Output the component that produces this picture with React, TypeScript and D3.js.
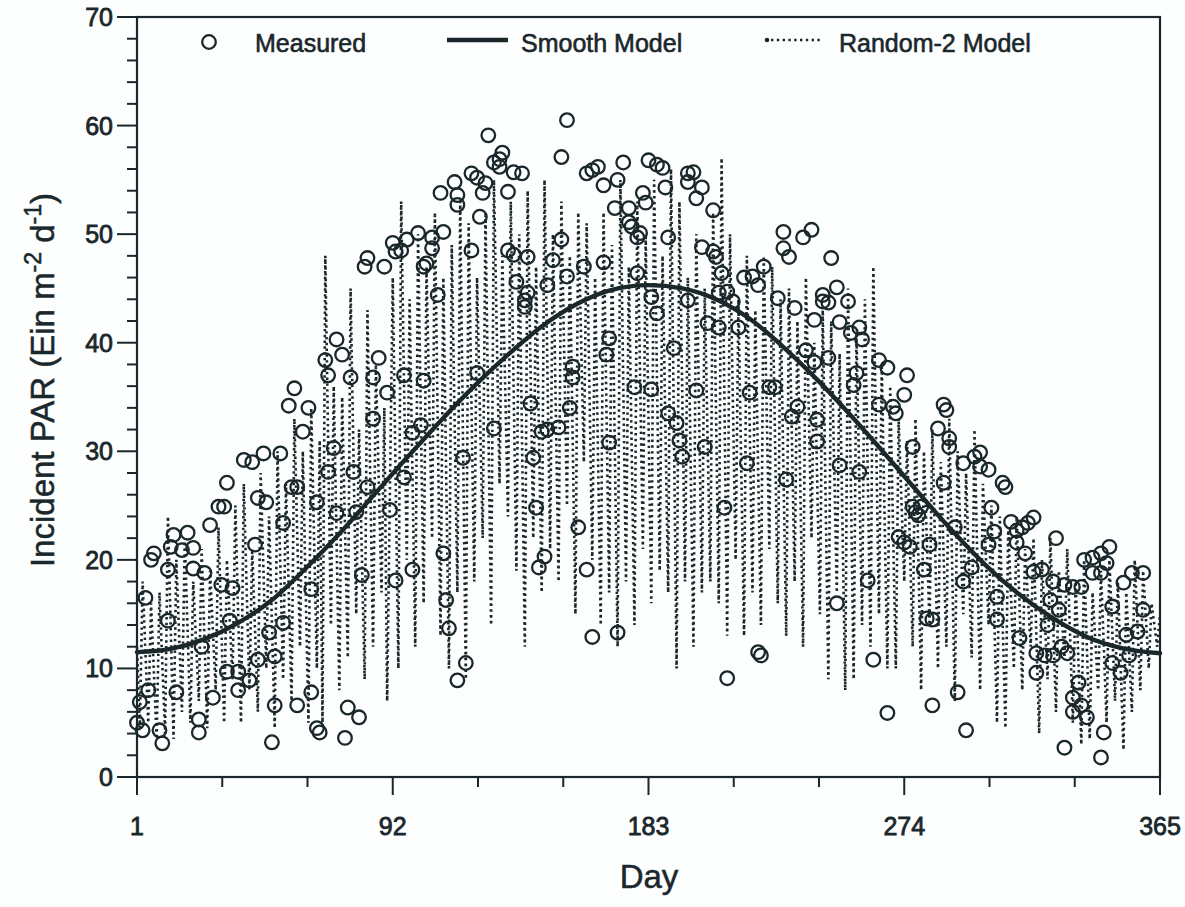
import React from "react";
import * as d3 from "d3";

// Measured daily incident PAR: [day, value]
const measured: [number, number][] = [
  [1,5.0],[2,6.9],[3,4.3],[4,16.5],[5,8.0],[6,20.0],[7,20.6],[9,4.3],[10,3.1],[12,19.1],[12,14.4],[13,21.2],[14,22.3],[15,7.8],[17,20.9],[19,22.5],[21,21.1],[21,19.2],[23,4.1],[23,5.3],[24,12.0],[25,18.8],[27,23.2],[28,7.3],[30,24.9],[31,17.7],[32,24.9],[33,27.1],[33,9.7],[34,14.4],[35,17.4],[37,9.7],[37,8.0],[39,29.2],[41,8.9],[42,29.0],[43,21.4],[44,25.7],[44,10.8],[46,29.8],[47,25.3],[48,13.3],[49,3.2],[50,6.6],[50,11.1],[52,29.8],[53,23.4],[53,14.2],[55,34.2],[56,26.7],[57,35.8],[58,26.7],[58,6.6],[60,31.8],[62,34.0],[63,7.8],[63,17.3],[65,25.3],[65,4.5],[66,4.1],[68,38.4],[69,37.0],[69,28.1],[71,30.3],[72,40.3],[72,24.3],[74,38.9],[75,3.6],[76,6.4],[77,36.8],[78,28.1],[79,24.4],[80,5.5],[81,18.6],[82,47.0],[83,47.8],[83,26.7],[85,33.0],[85,36.8],[87,38.6],[89,47.0],[90,35.4],[91,24.6],[92,49.2],[93,18.1],[93,48.4],[95,48.5],
  [96,37.0],[96,27.6],[97,49.5],[99,31.7],[99,19.1],[101,50.1],[102,32.4],[103,47.0],[103,36.5],[104,47.3],[106,48.7],[106,49.7],[108,44.4],[109,53.8],[110,50.2],[110,20.6],[111,16.3],[112,13.7],[114,54.8],[115,53.6],[115,52.7],[115,8.9],[117,29.4],[118,10.5],[120,55.6],[120,48.5],[122,55.2],[122,37.2],[123,51.6],[124,53.8],[125,54.7],[126,59.1],[128,56.6],[128,32.1],[130,56.9],[130,56.2],[131,57.5],[133,53.9],[133,48.5],[135,55.7],[135,48.1],[136,45.6],[138,55.6],[139,43.9],[139,43.3],[140,47.9],[140,44.6],[141,34.4],[142,29.4],[143,24.8],[144,19.3],[145,31.8],[146,20.3],[147,45.3],[147,32.0],[149,47.6],[151,32.2],[152,49.5],[152,57.1],[154,60.5],[154,46.1],[155,34.0],[156,37.8],[156,36.8],[158,23.0],[160,47.0],[161,55.6],[161,19.1],[163,55.9],[163,12.9],[165,56.2],[167,54.5],[167,47.4],[168,38.9],[169,40.4],[169,30.8],[171,52.4],[172,55.0],[172,13.3],[174,56.6],[176,52.4],[176,51.1],[177,50.7],[178,35.9],[179,49.7],[179,46.4],[180,50.1],[181,53.8],[182,52.9],[183,56.8],[184,44.2],[184,35.7],[186,56.4],[186,42.7],[188,56.1],[189,54.3],[190,49.7],[190,33.5],[192,39.5],[193,32.6],[194,31.0],[195,29.5],[197,55.6],[197,54.8],[197,43.9],[199,55.7],[200,53.3],[200,35.6],[202,54.3],[202,48.8],[203,30.4],[204,41.8],[206,52.2],[206,48.4],[207,47.9],[208,41.4],[208,44.6],[209,46.4],[210,24.8],[211,44.7],[211,9.1],[213,43.8],[215,41.4],[217,46.0],[218,28.9],[219,35.4],[220,46.1],[222,45.3],[222,11.5],[223,11.2],[224,47.0],[226,35.9],[228,35.9],[229,44.1],[231,50.2],[231,48.7],[232,27.4],[233,47.9],[234,33.2],[235,43.2],[236,34.1],[238,49.7],[239,39.3],[241,50.4],[242,38.2],[242,42.1],[243,32.9],[243,30.9],[245,44.4],[245,43.8],[247,43.7],[247,38.6],[248,47.8],[250,45.1],[250,16.0],[251,41.9],[251,28.7],[254,43.8],[255,40.9],[256,36.1],[257,37.2],[258,41.4],[258,28.1],[259,40.3],[261,18.1],[263,10.8],[265,38.4],[265,34.3],[268,37.7],[268,5.9],[270,34.1],[271,33.5],[272,22.1],[274,35.2],[274,21.6],[275,37.0],[276,21.2],[277,30.4],[277,24.9],[278,24.4],[279,24.1],[280,24.9],[281,19.1],[282,14.6],[283,21.4],[284,14.5],[284,6.6],[286,32.1],[288,34.3],[288,27.1],[289,33.8],[290,31.2],[290,30.4],[292,23.0],[293,7.8],[295,28.9],[295,18.0],[296,4.3],[298,19.3],[299,29.5],[301,29.9],[301,28.6],[304,28.3],[304,21.4],[305,24.8],[306,22.6],[307,16.6],[307,14.5],[309,27.1],[310,26.7],[312,23.5],[314,22.7],[314,21.6],[315,12.8],[316,23.0],[317,20.6],[318,23.4],[320,23.9],[320,18.9],[321,11.4],[321,9.6],[323,19.1],[324,11.2],[325,14.0],[326,16.3],[327,18.0],[327,11.2],[328,22.0],[329,15.4],[330,12.0],[331,17.7],[331,2.7],[332,11.4],[334,17.5],[334,7.3],[334,6.0],[336,8.7],[337,17.5],[337,6.6],[338,20.0],[339,5.5],[341,20.2],[341,18.8],[344,20.6],[344,18.8],[344,1.8],[345,4.1],[346,19.7],[347,21.2],[348,15.7],[348,10.5],[351,9.6],[352,17.9],[353,13.1],[354,11.2],[355,18.8],[357,13.4],[359,18.8],[359,15.4]
];

// Smooth model curve: [day, value]
const smoothModel: [number, number][] = [
  [1,11.5],[13,11.8],[25,12.7],[37,14.2],[49,16.3],[61,19.2],[73,22.4],[85,25.9],[97,29.4],[109,32.8],[121,36.0],[133,38.9],[145,41.5],[157,43.5],[169,44.8],[183,45.3],[195,45.0],[207,44.0],[219,42.2],[231,39.6],[243,36.6],[255,33.3],[267,29.8],[279,26.2],[291,22.7],[303,19.5],[315,16.8],[327,14.6],[339,12.9],[351,11.9],[365,11.4]
];

// Random-2 model daily values: [day, value]
const random2: [number, number][] = [
  [1,12],[2,4.5],[3,18],[5,5],[6,16],[8,3.5],[9,17],[11,4],[12,24],[14,3.5],[15,20],[17,6],[18,22],[20,5],[21,18],[23,7],[24,21],[26,4.5],[27,19],[29,8],[30,23],[32,5],[33,20],[35,9],[36,25],[38,5],[39,27],[41,8],[42,21],[44,6],[45,28],[47,10],[48,24],[50,4.5],[51,30],[53,9],[54,27],[56,7],[57,33],[59,12],[60,30],[62,5],[63,34],[65,10],[66,31],[67,5],[68,48],[70,14],[71,36],[73,8],[74,35],[76,11],[77,45],[79,15],[80,32],[82,9],[83,43],[85,12],[86,38],[88,17],[89,34],[90,7],[92,46],[94,10],[95,53],[97,20],[98,44],[100,12],[101,50],[103,16],[104,47],[106,22],[107,52],[109,13],[110,46],[112,10],[113,49],[115,17],[116,53],[118,9],[119,51],[121,18],[122,46],[124,22],[125,52],[127,14],[128,55],[130,27],[131,48],[133,24],[134,53],[136,19],[137,50],[139,12],[140,54],[142,22],[143,47],[145,17],[146,55],[148,21],[149,50],[151,18],[152,53],[154,25],[155,48],[157,15],[158,52],[160,29],[161,51],[163,20],[164,46],[166,14],[167,52],[169,17],[170,49],[172,12],[173,55],[175,18],[176,47],[178,14],[179,53],[181,21],[182,50],[184,16],[185,55],[187,19],[188,48],[190,17],[191,56],[193,10],[194,53],[196,18],[197,46],[199,12],[200,50],[202,17],[203,45],[205,18],[206,52],[208,16],[209,57],[211,13],[212,50],[214,20],[215,44],[217,13],[218,48],[220,17],[221,43],[223,14],[224,48],[226,21],[227,47],[229,16],[230,44],[232,13],[233,45],[235,18],[236,42],[238,12],[239,46],[241,22],[242,40],[244,15],[245,43],[247,9],[248,42],[250,17],[251,39],[253,8],[254,45],[256,9],[257,41],[259,14],[260,44],[262,12],[263,47],[265,15],[266,38],[268,10],[269,36],[271,10],[272,33],[274,18],[275,31],[277,12],[278,33],[280,8],[281,30],[283,14],[284,32],[286,10],[287,29],[289,12],[290,33],[292,7],[293,30],[295,15],[296,28],[298,11],[299,32],[301,8],[302,27],[304,14],[305,25],[307,5],[308,24],[310,4.5],[311,23],[313,10],[314,24],[316,8],[317,21],[319,12],[320,22],[322,4],[323,20],[325,9],[326,22],[328,6],[329,19],[331,11],[332,21],[334,5],[335,18],[337,3],[338,20],[340,3.5],[341,17],[343,8],[344,19],[346,5],[347,20],[349,7],[350,18],[352,2.5],[353,17],[355,6],[356,20],[358,8],[359,19],[361,10],[362,16],[364,12],[365,15]
];

const xTickDays = [1, 92, 183, 274, 365];
const yTickValues = [0, 10, 20, 30, 40, 50, 60, 70];
const legendLabels = ["Measured", "Smooth Model", "Random-2 Model"];

const INK = "#1a272b";
const FONT = "'Liberation Sans', Arial, Helvetica, sans-serif";

export default function App() {
  const W = 1185, H = 907;
  const left = 137, right = 1160, top = 17, bottom = 777;
  const x = d3.scaleLinear().domain([1, 365]).range([left, right]);
  const y = d3.scaleLinear().domain([0, 70]).range([bottom, top]);

  const smoothPath = d3.line<[number, number]>()
    .x(d => x(d[0])).y(d => y(d[1]))
    .curve(d3.curveMonotoneX)(smoothModel) || "";
  const randPath = d3.line<[number, number]>()
    .x(d => x(d[0])).y(d => y(d[1]))(random2) || "";

  const minorY = d3.range(2, 70, 2).filter(v => v % 10 !== 0);
  const minorX: number[] = [];
  for (let i = 0; i < xTickDays.length - 1; i++) {
    for (let k = 1; k <= 2; k++) minorX.push(xTickDays[i] + (xTickDays[i + 1] - xTickDays[i]) * k / 3);
  }

  return (
    <svg width={W} height={H} style={{ position: "absolute", left: 0, top: 0, background: "#fdfefe" }} fontFamily={FONT}>
      <rect x={0} y={0} width={W} height={H} fill="#fdfefe" />
      {/* Random-2 model dotted line */}
      <path d={randPath} fill="none" stroke={INK} strokeWidth={2.6} strokeDasharray="2.4 3.4" />
      {/* Smooth model */}
      <path d={smoothPath} fill="none" stroke={INK} strokeWidth={4.4} strokeLinecap="round" />
      {/* Measured circles */}
      {measured.map((d, i) => (
        <circle key={i} cx={x(d[0])} cy={y(d[1])} r={6.8} fill="none" stroke={INK} strokeWidth={2.3} />
      ))}
      {/* Frame */}
      <rect x={left} y={top} width={right - left} height={bottom - top} fill="none" stroke={INK} strokeWidth={2.2} />
      {/* Y ticks */}
      {yTickValues.map(v => (
        <g key={"y" + v}>
          <line x1={left - 20} x2={left} y1={y(v)} y2={y(v)} stroke={INK} strokeWidth={2} />
          <text x={left - 24} y={y(v)} dy="0.36em" textAnchor="end" fontSize={25} fill={INK} stroke={INK} strokeWidth={0.8}>{v}</text>
        </g>
      ))}
      {minorY.map(v => (
        <line key={"my" + v} x1={left - 10} x2={left} y1={y(v)} y2={y(v)} stroke={INK} strokeWidth={2} />
      ))}
      {/* X ticks */}
      {xTickDays.map(d => (
        <g key={"x" + d}>
          <line x1={x(d)} x2={x(d)} y1={bottom} y2={bottom + 18} stroke={INK} strokeWidth={2} />
          <text x={x(d)} y={bottom + 58} textAnchor="middle" fontSize={25} fill={INK} stroke={INK} strokeWidth={0.8}>{d}</text>
        </g>
      ))}
      {minorX.map((d, i) => (
        <line key={"mx" + i} x1={x(d)} x2={x(d)} y1={bottom} y2={bottom + 10} stroke={INK} strokeWidth={2} />
      ))}
      {/* Axis titles */}
      <text x={649} y={888} textAnchor="middle" fontSize={33} fill={INK} stroke={INK} strokeWidth={0.5}>Day</text>
      <text transform="translate(54,380) rotate(-90)" textAnchor="middle" fontSize={33} fill={INK} stroke={INK} strokeWidth={0.5}>
        Incident PAR (Ein m<tspan fontSize={23} dy={-13}>-2</tspan><tspan dy={13}> d</tspan><tspan fontSize={23} dy={-13}>-1</tspan><tspan dy={13}>)</tspan>
      </text>
      {/* Legend */}
      <circle cx={209} cy={42} r={6.8} fill="none" stroke={INK} strokeWidth={2.3} />
      <text x={255} y={52} fontSize={25} fill={INK} stroke={INK} strokeWidth={0.6}>{legendLabels[0]}</text>
      <line x1={447} x2={508} y1={40} y2={40} stroke={INK} strokeWidth={4.4} />
      <text x={521} y={52} fontSize={25} fill={INK} stroke={INK} strokeWidth={0.6}>{legendLabels[1]}</text>
      <circle cx={767} cy={40} r={2.3} fill={INK} />
      <line x1={771} x2={823} y1={40} y2={40} stroke={INK} strokeWidth={2.6} strokeDasharray="2.4 3.4" />
      <text x={839} y={52} fontSize={25} fill={INK} stroke={INK} strokeWidth={0.6}>{legendLabels[2]}</text>
    </svg>
  );
}
